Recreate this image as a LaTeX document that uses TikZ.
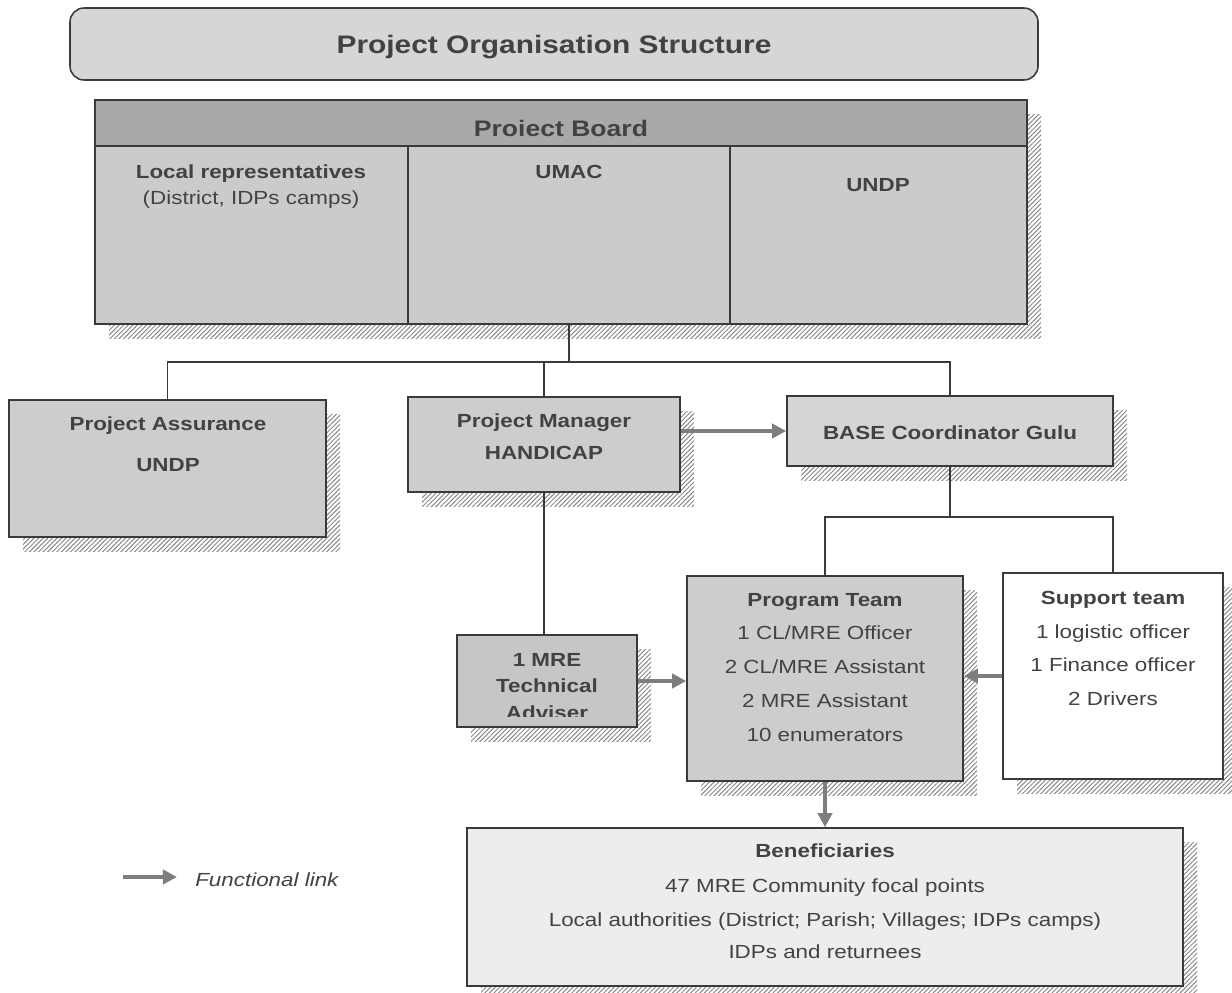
\documentclass[tikz,border=0pt]{standalone}
\usepackage{fontspec}
\setmainfont{Liberation Sans}[FakeStretch=1.18]
\usepackage{xcolor}
\definecolor{InkGray}{HTML}{3A3A3A}
\definecolor{TextGray}{HTML}{424242}
\definecolor{ArrowGray}{HTML}{7E7E7E}
\definecolor{HatchGray}{HTML}{888888}
\definecolor{TitleFill}{HTML}{D6D6D6}
\definecolor{HeaderFill}{HTML}{A9A9A9}
\definecolor{BoardFill}{HTML}{CBCBCB}
\definecolor{BoxFill}{HTML}{CDCDCD}
\definecolor{BaseFill}{HTML}{D5D5D5}
\definecolor{MreFill}{HTML}{C6C6C6}
\definecolor{BenefFill}{HTML}{EDEDED}
\usepackage{tikz}
\usetikzlibrary{positioning,fit,shadows,patterns.meta,arrows.meta}

\tikzset{
  orgbox/.style={draw=InkGray, line width=1.1pt, inner sep=0pt},
  hatched/.style={general shadow={shadow xshift=10pt, shadow yshift=-10pt,
      pattern={Lines[angle=45, distance=2.3pt, line width=0.7pt]}, pattern color=HatchGray}},
  txt/.style={text=TextGray, inner sep=0pt, text height=9.7pt, text depth=0pt,
      font=\fontsize{13.5}{16}\selectfont},
  btxt/.style={txt, font=\fontsize{13.5}{16}\selectfont\bfseries},
  link/.style={draw=InkGray, line width=0.9pt},
  flow/.style={draw=ArrowGray, line width=2.6pt, -{Triangle[length=10pt,width=10pt]}}
}

\begin{document}
\begin{tikzpicture}[x=0.025cm, y=-0.025cm]
  \path[use as bounding box, fill=white] (0,0) rectangle (1232,993);

  % Title banner
  \node[orgbox, rounded corners=10pt, fill=TitleFill, fit={(70,8) (1038,80)}] (title) {};
  \node[txt, text height=13pt, font=\fontsize{18}{20}\selectfont\bfseries] (titletext) at (554,44) {Project Organisation Structure};

  % Project board with its three members
  \node[orgbox, fill=BoardFill, hatched, fit={(95,100) (1027,324)}] (board) {};
  \node[orgbox, fill=HeaderFill, fit={(95,100) (1027,146)}] (hdr) {};
  \node[orgbox, fit={(95,146) (408,324)}] (local) {};
  \node[orgbox, fit={(408,146) (730,324)}] (umac) {};
  \node[orgbox, fit={(730,146) (1027,324)}] (undp) {};
  \node[txt, text height=11.5pt, font=\fontsize{16}{18}\selectfont\bfseries] (hdrtext) at (561,128) {Proiect Board};
  \node[btxt] (local-1) at (251,172) {Local representatives};
  \node[txt] (local-2) at (251,198) {(District, IDPs camps)};
  \node[btxt] (umac-1) at (569,172) {UMAC};
  \node[btxt] (undp-1) at (878,185) {UNDP};

  % Second level
  \node[orgbox, fill=BoxFill, hatched, fit={(9,400) (326,537)}] (pa) {};
  \node[btxt] (pa-1) at (168,424) {Project Assurance};
  \node[btxt] (pa-2) at (168,465) {UNDP};

  \node[orgbox, fill=BoxFill, hatched, fit={(408,397) (680,492)}] (pm) {};
  \node[btxt] (pm-1) at (544,421) {Project Manager};
  \node[btxt] (pm-2) at (544,453) {HANDICAP};

  \node[orgbox, fill=BaseFill, hatched, fit={(787,396) (1113,466)}] (base) {};
  \node[btxt] (base-1) at (950,433) {BASE Coordinator Gulu};

  % Field teams
  \node[orgbox, fill=MreFill, hatched, fit={(457,635) (637,727)}] (mre) {};
  \begin{scope}
    \clip (457,635) rectangle (637,716);
    \foreach \ln/\yy [count=\i] in {1 MRE/660, Technical/686, Adviser/713}
      \node[btxt] (mre-\i) at (547,\yy) {\ln};
  \end{scope}

  \node[orgbox, fill=BoxFill, hatched, fit={(687,576) (963,781)}] (prog) {};
  \node[btxt] (prog-0) at (825,600) {Program Team};
  \foreach \ln/\yy [count=\i] in {{1 CL/MRE Officer}/633, {2 CL/MRE Assistant}/667,
      {2 MRE Assistant}/701, {10 enumerators}/735}
    \node[txt] (prog-\i) at (825,\yy) {\ln};

  \node[orgbox, fill=white, hatched, fit={(1003,573) (1223,779)}] (supp) {};
  \node[btxt] (supp-0) at (1113,598) {Support team};
  \foreach \ln/\yy [count=\i] in {{1 logistic officer}/632, {1 Finance officer}/665,
      {2 Drivers}/699}
    \node[txt] (supp-\i) at (1113,\yy) {\ln};

  \node[orgbox, fill=BenefFill, hatched, fit={(467,828) (1183,986)}] (benef) {};
  \node[btxt] (benef-0) at (825,851) {Beneficiaries};
  \foreach \ln/\yy [count=\i] in {{47 MRE Community focal points}/886,
      {Local authorities (District; Parish; Villages; IDPs camps)}/920,
      {IDPs and returnees}/952}
    \node[txt] (benef-\i) at (825,\yy) {\ln};

  % Hierarchy lines
  \coordinate (bus) at (569,362);
  \coordinate (split) at (950,517);
  \draw[link] (umac.south) -- (bus);
  \draw[link] (bus) -| (pa.north);
  \draw[link] (bus) -| (pm.north);
  \draw[link] (bus) -| (base.north);
  \draw[link] (pm.south) -- (pm.south |- mre.north);
  \draw[link] (base.south) -- (split) -| (prog.north);
  \draw[link] (split) -| (supp.north);

  % Functional links
  \draw[flow] (pm.east |- base.west) -- (base.west);
  \draw[flow] (mre.east) -- (prog.west |- mre.east);
  \draw[flow] (supp.west) -- (prog.east |- supp.west);
  \draw[flow] (prog.south) -- (benef.north);

  % Legend
  \coordinate (leg-a) at (123,877);
  \coordinate (leg-b) at (177,877);
  \draw[flow] (leg-a) -- (leg-b);
  \node[txt, anchor=west, font=\fontsize{13.5}{16}\selectfont\itshape] (legend) at (195,880) {Functional link};
\end{tikzpicture}
\end{document}
